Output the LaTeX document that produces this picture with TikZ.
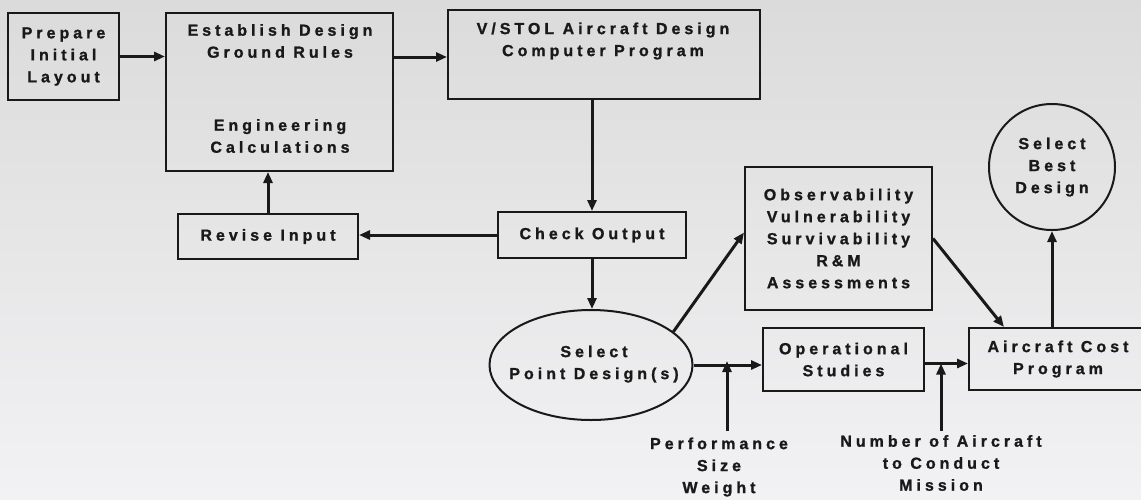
\documentclass[tikz,border=0pt]{standalone}
\usepackage{fontspec}
\setmainfont{Liberation Sans}[LetterSpace=25, BoldFont={Liberation Sans Bold}, BoldFeatures={FakeBold=1.2}]
\usetikzlibrary{arrows.meta,shapes.geometric,calc}
\definecolor{bgtop}{RGB}{219,219,219}
\definecolor{bgbot}{RGB}{242,242,244}
\definecolor{ink}{RGB}{25,25,25}
\tikzset{
  lbl/.style={align=center, inner sep=2pt, text=ink, font=\fontsize{16}{22}\selectfont\bfseries},
  box/.style={lbl, draw=ink, line width=2pt, inner sep=0pt},
  arr/.style={draw=ink, line width=3pt, -{Triangle[length=11pt,width=9pt]}}
}
\begin{document}
\begin{tikzpicture}[x=1pt,y=-1pt]
\clip (0,0) rectangle (1141,499);
\useasboundingbox (0,0) rectangle (1141,499);
\shade[top color=bgtop, bottom color=bgbot] (0,0) rectangle (1141,499);

% boxes
\node[box, minimum width=111pt, minimum height=87pt] (prep) at (63.5,56.5) {Prepare\\Initial\\Layout};
\node[box, minimum width=227pt, minimum height=158pt] (est) at (279.5,92) {};
\node[lbl] (estt) at (280,41) {Establish Design\\Ground Rules};
\node[lbl] (eng) at (280,136) {Engineering\\Calculations};
\node[box, minimum width=312pt, minimum height=89pt] (vstol) at (604,54.5) {};
\node[lbl] (vstolt) at (603,41) {V/STOL Aircraft Design\\Computer Program};
\node[box, minimum width=188pt, minimum height=46pt] (check) at (592,235) {Check Output};
\node[box, minimum width=180pt, minimum height=45pt] (rev) at (268,236.5) {Revise Input};
\node[box, ellipse, minimum width=203pt, minimum height=110pt] (sel) at (591,365) {};
\node[lbl] (selt) at (594,364) {Select\\Point Design(s)};
\node[box, minimum width=187pt, minimum height=143pt] (obs) at (838.5,238.5) {Observability\\Vulnerability\\Survivability\\R\&M\\Assessments};
\node[box, minimum width=161pt, minimum height=63pt] (ops) at (843.5,359.5) {Operational\\Studies};
\node[box, minimum width=181pt, minimum height=62pt] (cost) at (1059.5,359) {};
\node[lbl] (costt) at (1058,359) {Aircraft Cost\\Program};
\node[box, circle, minimum size=126pt] (best) at (1052,167) {Select\\Best\\Design};
\node[lbl] (perf) at (719,467) {Performance\\Size\\Weight};
\node[lbl] (num) at (941,463) {Number of Aircraft\\to Conduct\\Mission};

% connectors
\draw[arr] (prep.east) -- (prep.east -| est.west);
\draw[arr] ([yshift=35pt]est.east) -- ([yshift=35pt]est.east -| vstol.west);
\draw[arr] (vstol.south -| check.north) -- (check.north);
\draw[arr] (check.west) -- (check.west -| rev.east);
\draw[arr] (rev.north) -- (rev.north |- est.south);
\draw[arr] (check.south) -- (check.south |- sel.north);
\draw[arr] (sel.22) -- ([yshift=6pt]obs.west);
\draw[arr] (obs.east) -- ([xshift=36pt]cost.north west);
\draw[arr] (best.south |- cost.north) -- (best.south);
\draw[arr] (sel.east) -- (sel.east -| ops.west);
\draw[arr] ([yshift=-4pt]ops.east) -- ([yshift=-4pt]ops.east -| cost.west);
\draw[arr] ([yshift=4pt,xshift=8pt]perf.north) -- ([yshift=4pt,xshift=8pt]perf.north |- sel.east);
\draw[arr] ([yshift=2pt]num.north) -- ([yshift=-4pt]num.north |- ops.east);
\end{tikzpicture}
\end{document}
